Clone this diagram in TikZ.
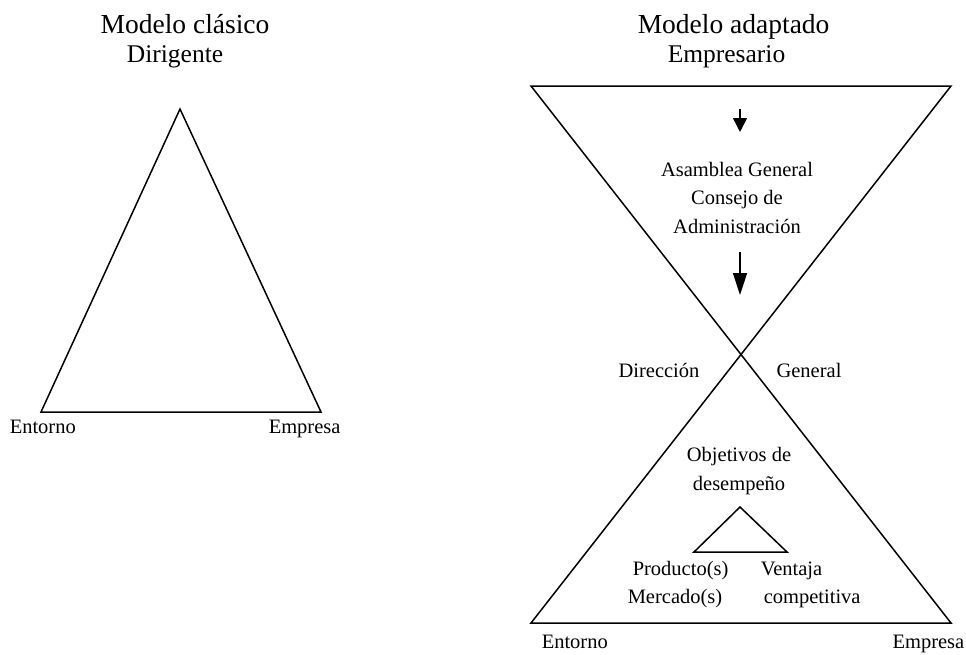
\documentclass[tikz,border=0pt]{standalone}
\usepackage{fontspec}
\setmainfont{Liberation Serif}
\usetikzlibrary{arrows.meta}

\begin{document}
\begin{tikzpicture}[x=1pt,y=-1pt,line width=1.5pt,line join=miter,
  lbl/.style={font=\fontsize{20.5}{28.5}\selectfont, inner sep=0pt},
  ttl/.style={font=\fontsize{27.5}{30}\selectfont, inner sep=0pt},
  subttl/.style={font=\fontsize{25.5}{30}\selectfont, inner sep=0pt},
  shortarr/.style={-{Triangle[width=14pt,length=14pt]}},
  longarr/.style={-{Triangle[width=14pt,length=22pt]}}]
\useasboundingbox (0,0) rectangle (966,654);

% classic model
\node[ttl, anchor=base] (clasico) at (185,33) {Modelo clásico};
\node[subttl, anchor=base] (dirigente) at (175,62) {Dirigente};
\coordinate (ctop) at (180,109);
\coordinate (cleft) at (41,412);
\coordinate (cright) at (321,412);
\draw (ctop) -- (cleft) -- (cright) -- cycle;
\node[lbl, anchor=base west] (entornoL) at (9,433) {Entorno};
\node[lbl, anchor=base west] (empresaL) at (268,433) {Empresa};

% adapted model
\node[ttl, anchor=base west] (adaptado) at (637,33) {Modelo adaptado};
\node[subttl, anchor=base west] (empresario) at (667,62) {Empresario};
\coordinate (htl) at (531,86);
\coordinate (htr) at (951,86);
\coordinate (hbl) at (531,623);
\coordinate (hbr) at (951,623);
\draw (htl) -- (htr) -- (hbl) -- (hbr) -- cycle;

% base anchor sits on the last line
\node[lbl, align=center, anchor=base] (asamblea) at (737,233) {Asamblea General\\Consejo de\\Administración};
\coordinate (arr1a) at (740,109);
\coordinate (arr1b) at (740,132);
\coordinate (arr2a) at (740,252);
\coordinate (arr2b) at (740,295);
\draw[shortarr] (arr1a) -- (arr1b);
\draw[longarr] (arr2a) -- (arr2b);

\node[lbl, anchor=base] (direccion) at (659,377) {Dirección};
\node[lbl, anchor=base] (general) at (809,377) {General};

\node[lbl, align=center, anchor=base] (objetivos) at (739,490) {Objetivos de\\desempeño};
\coordinate (stop) at (740,507);
\coordinate (sleft) at (694,552);
\coordinate (sright) at (787,552);
\draw (stop) -- (sleft) -- (sright) -- cycle;

\node[lbl, anchor=base west] (producto) at (632,575) {Producto(s)};
\node[lbl, anchor=base west] (mercado) at (627,603) {Mercado(s)};
\node[lbl, anchor=base west] (ventaja) at (760,575) {Ventaja};
\node[lbl, anchor=base west] (competitiva) at (763,603) {competitiva};

\node[lbl, anchor=base west] (entornoR) at (541,648) {Entorno};
\node[lbl, anchor=base east] (empresaR) at (965,648) {Empresa};
\end{tikzpicture}
\end{document}
